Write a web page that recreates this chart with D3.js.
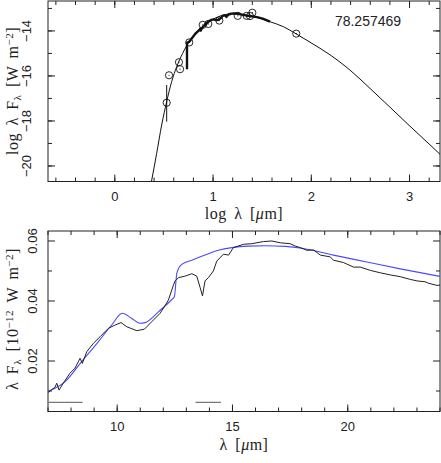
<!DOCTYPE html>
<html><head><meta charset="utf-8">
<script src="https://cdn.jsdelivr.net/npm/d3@7"></script>
<style>body{margin:0;background:#fff}svg{display:block}</style>
</head><body><svg id="c" width="441" height="463"></svg>
<script>
// ---------- DATA ----------
// Top panel: model SED  [log λ (μm), log λFλ (W m^-2)]
const sedModel = [[0.34,-21.4],[0.376,-20.62],[0.426,-19.44],[0.477,-18.18],[0.528,-17.14],[0.579,-16.25],[0.630,-15.59],[0.69,-15.0],[0.758,-14.47],[0.867,-13.92],[1.003,-13.47],[1.10,-13.30],[1.20,-13.24],[1.342,-13.30],[1.45,-13.40],[1.58,-13.59],[1.715,-13.81],[1.834,-14.10],[1.987,-14.50],[2.190,-15.06],[2.394,-15.74],[2.597,-16.55],[2.801,-17.39],[3.004,-18.23],[3.208,-19.06],[3.32,-19.52]];
// Top panel: photometry  [log λ, log λFλ]
const photometry = [[0.528,-17.19],[0.552,-15.97],[0.653,-15.39],[0.664,-15.70],[0.758,-14.51],[0.895,-13.73],[0.952,-13.69],[1.064,-13.54],[1.251,-13.33],[1.342,-13.33],[1.376,-13.34],[1.40,-13.19],[1.847,-14.12]];
// error bars [log λ, upper, lower]
const photErr = [[0.528,-16.40,-18.03]];
// Spectrum [λ (μm), λFλ (1e-12 W m^-2)]
const spectrum = [[7.0,0.0095],[7.16,0.0105],[7.30,0.0112],[7.38,0.0126],[7.48,0.0103],[7.66,0.0126],[7.95,0.0159],[8.17,0.0176],[8.39,0.0209],[8.49,0.0192],[8.68,0.0231],[8.97,0.0259],[9.26,0.0281],[9.62,0.0309],[9.91,0.0320],[10.17,0.0328],[10.42,0.0314],[10.85,0.0301],[11.18,0.0306],[11.50,0.0331],[11.86,0.0359],[12.08,0.0385],[12.22,0.0403],[12.44,0.0453],[12.51,0.0467],[12.66,0.0478],[12.95,0.0483],[13.24,0.0491],[13.45,0.0483],[13.60,0.0444],[13.70,0.0417],[13.81,0.0467],[13.96,0.0478],[14.17,0.0500],[14.32,0.0533],[14.61,0.0556],[14.83,0.0553],[15.04,0.0578],[15.48,0.0589],[15.84,0.0591],[16.34,0.0598],[16.71,0.0600],[17.07,0.0594],[17.50,0.0591],[17.72,0.0583],[17.94,0.0578],[18.23,0.0569],[18.52,0.0570],[18.81,0.0553],[19.24,0.0547],[19.38,0.0536],[19.82,0.0528],[20.25,0.0513],[20.54,0.0513],[20.98,0.0502],[21.41,0.0494],[21.84,0.0487],[22.28,0.0481],[22.71,0.0472],[23.00,0.0467],[23.36,0.0464],[23.51,0.0459],[23.87,0.0452],[24.0,0.0453]];
// spectrum parts only visible in the log panel
const spectrumShort = [[5.43,0.0002],[5.43,0.00295],[5.75,0.0034],[6.2,0.0052],[6.6,0.0075]];
const spectrumLong = [[25,0.0445],[28,0.041],[32,0.035],[38,0.0257]];
// Bottom panel: model [λ, λFλ]
const modelSpec = [[7.0,0.0098],[7.74,0.0131],[8.46,0.0198],[9.18,0.0264],[9.76,0.0320],[10.22,0.0359],[10.63,0.0342],[10.99,0.0326],[11.21,0.0328],[11.79,0.0364],[12.37,0.0405],[12.48,0.0414],[12.59,0.0494],[12.80,0.0522],[13.24,0.0536],[13.81,0.0553],[14.39,0.0569],[14.97,0.0578],[15.69,0.0583],[16.42,0.0584],[17.29,0.0582],[18.01,0.0576],[19.38,0.0553],[20.83,0.0530],[22.28,0.0507],[24.0,0.0482]];
// filter bands [λmin, λmax, level]
const bands = [[6.5,8.5,0.0062],[13.4,14.5,0.0062]];
const label = "78.257469";
// tick labels
const topXMajor = [0,1,2,3];
const topYMajor = [-20,-18,-16,-14];
const botXMajor = [10,15,20];
const botYMajor = [0.02,0.04,0.06];

// ---------- LAYOUT ----------
const svg = d3.select("#c");
const L = 48, R = 440;
const topP = {t:1, b:181.5}, botP = {t:231, b:411.5};
const ink = "#222";
const numFont = "'Liberation Sans', Arial, sans-serif";
const titleFont = "'Liberation Serif', 'Times New Roman', serif";

const x1 = d3.scaleLinear().domain([-0.68,3.31]).range([L,R]);
const y1 = d3.scaleLinear().domain([-20.69,-12.67]).range([topP.b,topP.t]);
const x2 = d3.scaleLinear().domain([7,24]).range([L,R]);
const y2 = d3.scaleLinear().domain([0.00317,0.06333]).range([botP.b,botP.t]);

const defs = svg.append("defs");
function clip(id, p){
  defs.append("clipPath").attr("id",id).append("rect")
    .attr("x",L).attr("y",p.t).attr("width",R-L).attr("height",p.b-p.t);
}
clip("c1",topP); clip("c2",botP);

function frame(xs, ys, xMaj, xMin, yMaj, yMin, fmtX, fmtY, yLabX){
  const g = svg.append("g");
  const [yb, yt] = ys.range();
  g.append("rect").attr("x",L).attr("y",yt).attr("width",R-L).attr("height",yb-yt)
    .attr("fill","none").attr("stroke",ink).attr("stroke-width",1);
  const tk = (x1_,y1_,x2_,y2_) => g.append("line").attr("x1",x1_).attr("y1",y1_).attr("x2",x2_).attr("y2",y2_)
    .attr("stroke",ink).attr("stroke-width",1);
  xMin.forEach(v=>{const x=xs(v); tk(x,yb,x,yb-4); tk(x,yt,x,yt+4);});
  xMaj.forEach(v=>{const x=xs(v); tk(x,yb,x,yb-7); tk(x,yt,x,yt+7);
    g.append("text").attr("x",x).attr("y",yb+19).attr("text-anchor","middle")
      .attr("font-family",numFont).attr("font-size",13).attr("fill",ink).text(fmtX(v));});
  yMin.forEach(v=>{const y=ys(v); tk(L,y,L+4,y); tk(R,y,R-4,y);});
  yMaj.forEach(v=>{const y=ys(v); tk(L,y,L+7,y); tk(R,y,R-7,y);
    g.append("text").attr("transform",`translate(${yLabX},${y}) rotate(-90)`)
      .attr("text-anchor","middle").attr("font-family",numFont).attr("font-size",13).attr("fill",ink).text(fmtY(v));});
}
const minus = s => s.replace("-","\u2212");
frame(x1,y1,topXMajor,d3.range(-6,34,2).map(d=>d/10),topYMajor,d3.range(-20,-12,1),
  d=>minus(String(d)), d=>minus(String(d)), 31);
frame(x2,y2,botXMajor,d3.range(7,25,1),botYMajor,[0.01,0.03,0.05],
  d=>String(d), d=>d.toFixed(2), 37);

// ---------- TOP PANEL ----------
const gt = svg.append("g").attr("clip-path","url(#c1)");
const lt = d3.line().x(d=>x1(d[0])).y(d=>y1(d[1]));
gt.append("path").datum(sedModel).attr("d",d3.line().curve(d3.curveMonotoneX).x(d=>x1(d[0])).y(d=>y1(d[1])))
  .attr("fill","none").attr("stroke","#111").attr("stroke-width",1);
const logSpec = spectrumShort.concat(spectrum, spectrumLong).map(d=>[Math.log10(d[0]), Math.log10(d[1]*1e-12)]);
gt.append("path").datum(logSpec).attr("d",lt).attr("fill","none").attr("stroke","#111").attr("stroke-width",2.4)
  .attr("stroke-linejoin","round");
photErr.forEach(e=>{
  gt.append("line").attr("x1",x1(e[0])).attr("x2",x1(e[0])).attr("y1",y1(e[1])).attr("y2",y1(e[2]))
    .attr("stroke","#111").attr("stroke-width",1);
});
photometry.forEach(p=>{
  gt.append("circle").attr("cx",x1(p[0])).attr("cy",y1(p[1])).attr("r",3.6)
    .attr("fill","none").attr("stroke","#111").attr("stroke-width",0.9);
  gt.append("circle").attr("cx",x1(p[0])).attr("cy",y1(p[1])).attr("r",0.6).attr("fill","#111");
});
svg.append("text").attr("x",368).attr("y",26).attr("text-anchor","middle")
  .attr("font-family",numFont).attr("font-size",14).attr("fill",ink).text(label);

// ---------- BOTTOM PANEL ----------
const gb = svg.append("g").attr("clip-path","url(#c2)");
const lb = d3.line().x(d=>x2(d[0])).y(d=>y2(d[1]));
bands.forEach(b=>{
  gb.append("line").attr("x1",x2(b[0])).attr("x2",x2(b[1])).attr("y1",y2(b[2])).attr("y2",y2(b[2]))
    .attr("stroke","#777").attr("stroke-width",1.2);
});
gb.append("path").datum(modelSpec).attr("d",d3.line().curve(d3.curveMonotoneX).x(d=>x2(d[0])).y(d=>y2(d[1])))
  .attr("fill","none").attr("stroke","#4a4aff").attr("stroke-width",1.1);
gb.append("path").datum(spectrum).attr("d",lb).attr("fill","none").attr("stroke","#222").attr("stroke-width",1);

// ---------- TITLES ----------
function title(x,y,rot,parts){
  const t = svg.append("text").attr("transform",`translate(${x},${y}) rotate(${rot})`)
    .attr("text-anchor","middle").attr("font-family",titleFont).attr("font-size",16)
    .attr("letter-spacing",0.5).attr("word-spacing",3).attr("fill",ink);
  parts.forEach(p=>{
    const s = t.append("tspan").text(p[0]);
    if(p[1]==="sub") s.attr("baseline-shift","-25%").attr("font-size",11);
    if(p[1]==="sup") s.attr("baseline-shift","50%").attr("font-size",11);
    if(p[1]==="it") s.attr("font-style","italic");
  });
}
title(18,91,-90,[["log \u03bb F"],["\u03bb","sub"],[" [W m"],["\u22122","sup"],["]"]]);
title(244,219,0,[["log \u03bb ["],["\u03bc","it"],["m]"]]);
title(18,319,-90,[["\u03bb F"],["\u03bb","sub"],[" [10"],["\u221212","sup"],[" W m"],["\u22122","sup"],["]"]]);
title(244,450,0,[["\u03bb ["],["\u03bc","it"],["m]"]]);
</script></body></html>
